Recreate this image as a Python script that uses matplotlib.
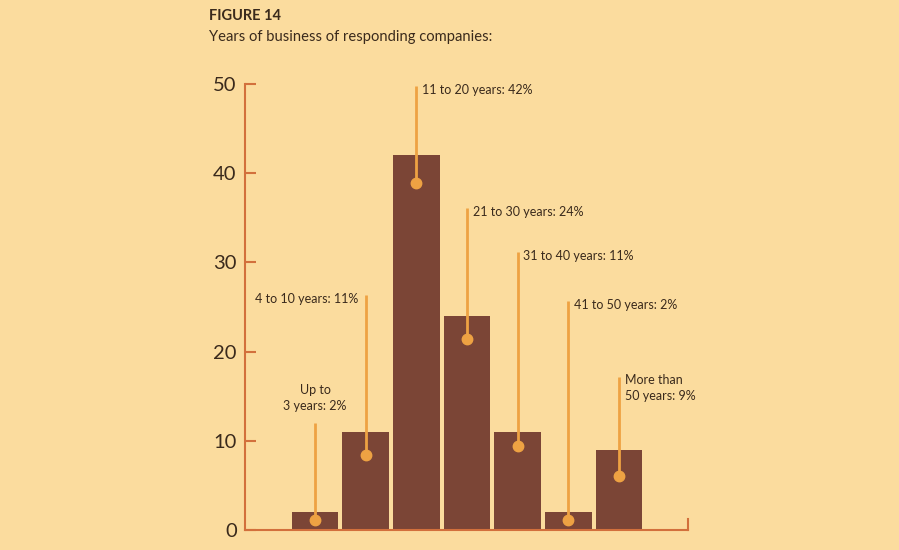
import matplotlib
matplotlib.use("Agg")
import matplotlib.pyplot as plt

categories = ["Up to\n3 years: 2%", "4 to 10 years: 11%", "11 to 20 years: 42%",
              "21 to 30 years: 24%", "31 to 40 years: 11%", "41 to 50 years: 2%",
              "More than\n50 years: 9%"]
values = [2, 11, 42, 24, 11, 2, 9]
yticks = [0, 10, 20, 30, 40, 50]

# layout of the callouts (data units)
dot_y = [1.1, 8.4, 38.9, 21.4, 9.4, 1.1, 6.05]
line_top = [12.0, 26.3, 49.8, 36.1, 31.2, 25.7, 17.2]
label_side = ["top", "left", "right", "right", "right", "right", "right"]

BG = "#FBDC9E"
BAR = "#7B4536"
ORANGE = "#EEA243"
AXIS = "#D2703C"
TEXT = "#3A2A1C"

plt.rcParams['font.family'] = ['Lato', 'DejaVu Sans']

fig = plt.figure(figsize=(8.99, 5.5), dpi=100, facecolor=BG)
ax = fig.add_axes([245/899, 20/550, 443/899, 446/550])
ax.set_facecolor(BG)

x = list(range(len(values)))
ax.bar(x, values, width=0.92, color=BAR, zorder=2)

FS = 9.0
for i, v in enumerate(values):
    ax.plot([i, i], [dot_y[i], line_top[i]], color=ORANGE, lw=2.0, zorder=3,
            clip_on=False, solid_capstyle='butt')
    ax.plot([i], [dot_y[i]], 'o', color=ORANGE, ms=7.5, zorder=4, clip_on=False)
    if label_side[i] == "right":
        ax.annotate(categories[i], (i, line_top[i]), xytext=(4, 1.5),
                    textcoords='offset points', ha='left', va='top',
                    fontsize=FS, color=TEXT, linespacing=1.35)
    elif label_side[i] == "left":
        ax.annotate(categories[i], (i, line_top[i]), xytext=(-5, 1.5),
                    textcoords='offset points', ha='right', va='top',
                    fontsize=FS, color=TEXT, linespacing=1.35)
    else:
        ax.annotate(categories[i], (i, line_top[i]), xytext=(0, 8),
                    textcoords='offset points', ha='center', va='bottom',
                    fontsize=FS, color=TEXT, linespacing=1.35, multialignment='center')

ax.set_xlim(-1.38, 7.36)
ax.set_ylim(0, 50)
ax.set_xticks([])
ax.set_yticks(yticks)
ax.set_yticklabels([str(t) for t in yticks], fontsize=14.5, color=TEXT)
ax.tick_params(axis='y', direction='in', length=8, width=1.5, color=AXIS, pad=6)

ax.spines['top'].set_visible(False)
for s in ['left', 'bottom', 'right']:
    ax.spines[s].set_color(AXIS)
    ax.spines[s].set_linewidth(1.5)
ax.spines['right'].set_bounds(0, 1.2)

fig.text(209/899, 1 - 16/550, "FIGURE 14", fontsize=10.5, fontweight='bold',
         color=TEXT, ha='left', va='center')
fig.text(209/899, 1 - 37/550, "Years of business of responding companies:",
         fontsize=10.6, color=TEXT, ha='left', va='center')

fig.savefig("out.png", dpi=100, facecolor=BG)
